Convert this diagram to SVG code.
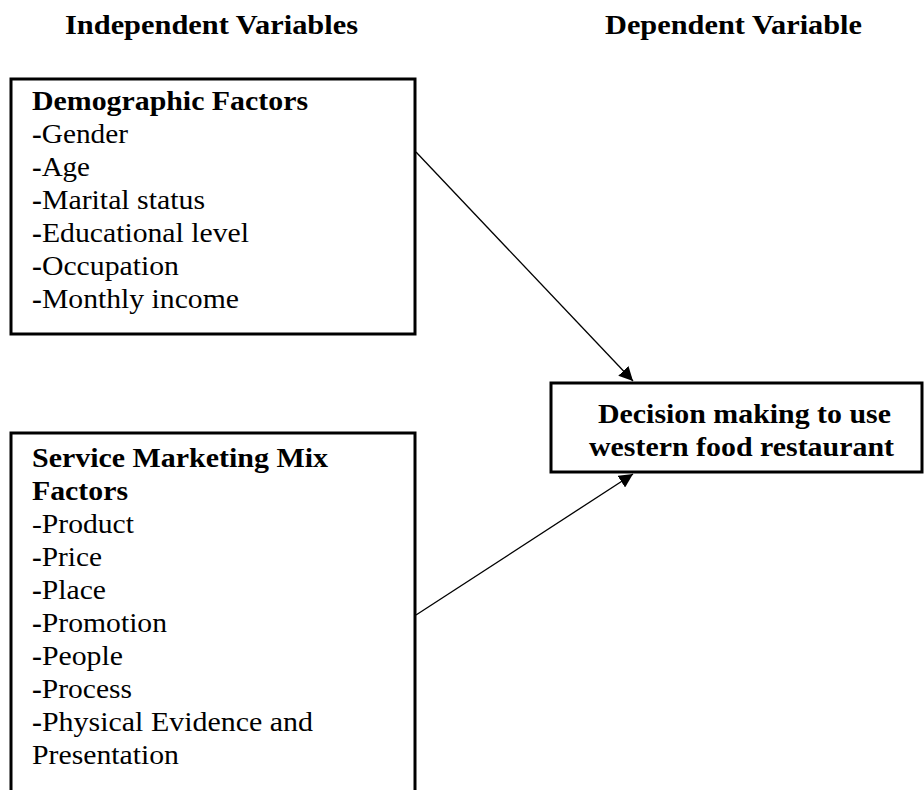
<svg xmlns="http://www.w3.org/2000/svg" width="924" height="790" viewBox="0 0 924 790" font-family="'Liberation Serif', 'Times New Roman', Times, serif">
<style>
.h{font-size:27px;font-weight:bold}
.t{font-size:27px}
.b{font-weight:bold}
.box{fill:#fff;stroke:#000;stroke-width:3}
.c{stroke:#000;stroke-width:1.3;fill:none}
</style>
<defs>
<marker id="ah" viewBox="0 0 10 10" refX="10" refY="5" markerWidth="14" markerHeight="14" markerUnits="userSpaceOnUse" orient="auto">
<path d="M0,0 L10,5 L0,10 z" fill="#000"/>
</marker>
</defs>
<rect width="924" height="790" fill="#fff"/>
<text class="h" x="65" y="34" textLength="293" lengthAdjust="spacingAndGlyphs">Independent Variables</text>
<text class="h" x="605" y="34" textLength="257" lengthAdjust="spacingAndGlyphs">Dependent Variable</text>
<g id="demographic">
<rect class="box" x="11" y="79" width="404" height="255"/>
<text class="t b" x="32" y="110" textLength="276" lengthAdjust="spacingAndGlyphs">Demographic Factors</text>
<text class="t" x="32" y="143" textLength="96" lengthAdjust="spacingAndGlyphs"><tspan class="b">-</tspan>Gender</text>
<text class="t" x="32" y="176" textLength="58" lengthAdjust="spacingAndGlyphs"><tspan class="b">-</tspan>Age</text>
<text class="t" x="32" y="209" textLength="173" lengthAdjust="spacingAndGlyphs"><tspan class="b">-</tspan>Marital status</text>
<text class="t" x="32" y="242" textLength="217" lengthAdjust="spacingAndGlyphs"><tspan class="b">-</tspan>Educational level</text>
<text class="t" x="32" y="275" textLength="147" lengthAdjust="spacingAndGlyphs"><tspan class="b">-</tspan>Occupation</text>
<text class="t" x="32" y="308" textLength="207" lengthAdjust="spacingAndGlyphs"><tspan class="b">-</tspan>Monthly income</text>
</g>
<g id="marketing">
<rect class="box" x="11" y="433" width="404" height="380"/>
<text class="t b" x="32" y="467" textLength="296" lengthAdjust="spacingAndGlyphs">Service Marketing Mix</text>
<text class="t b" x="32" y="500" textLength="96" lengthAdjust="spacingAndGlyphs">Factors</text>
<text class="t" x="32" y="533" textLength="102" lengthAdjust="spacingAndGlyphs">-Product</text>
<text class="t" x="32" y="566" textLength="70" lengthAdjust="spacingAndGlyphs"><tspan class="b">-</tspan>Price</text>
<text class="t" x="32" y="599" textLength="74" lengthAdjust="spacingAndGlyphs"><tspan class="b">-</tspan>Place</text>
<text class="t" x="32" y="632" textLength="135" lengthAdjust="spacingAndGlyphs"><tspan class="b">-</tspan>Promotion</text>
<text class="t" x="32" y="665" textLength="91" lengthAdjust="spacingAndGlyphs"><tspan class="b">-</tspan>People</text>
<text class="t" x="32" y="698" textLength="100" lengthAdjust="spacingAndGlyphs"><tspan class="b">-</tspan>Process</text>
<text class="t" x="32" y="731" textLength="281" lengthAdjust="spacingAndGlyphs"><tspan class="b">-</tspan>Physical Evidence and</text>
<text class="t" x="32" y="764" textLength="147" lengthAdjust="spacingAndGlyphs">Presentation</text>
</g>
<g id="decision">
<rect class="box" x="551" y="383" width="371" height="89"/>
<text class="t b" x="598" y="423" textLength="293" lengthAdjust="spacingAndGlyphs">Decision making to use</text>
<text class="t b" x="589" y="456" textLength="305" lengthAdjust="spacingAndGlyphs">western food restaurant</text>
</g>
<g id="connectors">
<line class="c" x1="416" y1="152" x2="633" y2="381" marker-end="url(#ah)"/>
<line class="c" x1="416" y1="615" x2="633" y2="474" marker-end="url(#ah)"/>
</g>
</svg>
